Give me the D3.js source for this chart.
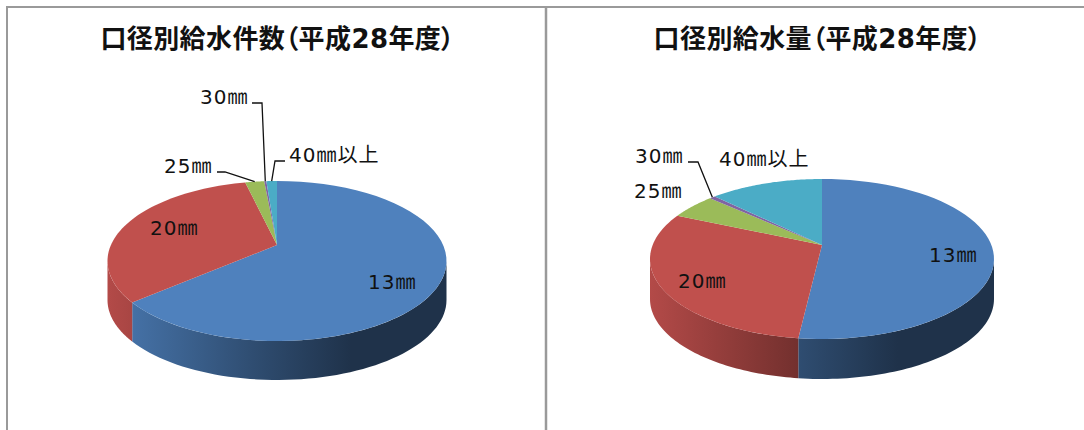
<!DOCTYPE html>
<html lang="ja">
<head>
<meta charset="utf-8">
<script src="https://cdnjs.cloudflare.com/ajax/libs/d3/7.8.5/d3.min.js"></script>
<style>
  html, body { margin: 0; padding: 0; background: #fff; }
  svg { display: block; }
  text { font-family: "DejaVu Sans", "Noto Sans CJK JP", sans-serif; fill: #111; }
  .title { font-size: 26px; font-weight: 700; text-anchor: middle; letter-spacing: 0.4px; }
  .label { font-size: 20px; letter-spacing: 1px; }
  .paren { font-family: "Noto Sans CJK JP"; font-feature-settings: "palt"; }
</style>
</head>
<body>
<svg id="chart" width="1084" height="430"></svg>
<script>
// Share of service connections and of supplied water by meter diameter, FY Heisei 28 (%).
const categories = ["13㎜", "20㎜", "25㎜", "30㎜", "40㎜以上"];
const connectionShares = [66.3, 30.7, 1.8, 0.2, 1.0];
const volumeShares = [52.2, 31.9, 4.6, 0.6, 10.7];
const sliceColors = ["#4f81bd", "#c0504d", "#9bbb59", "#8064a2", "#4bacc6"];

const connectionTitle = ["口径別給水件数", "平成28年度"];
const volumeTitle = ["口径別給水量", "平成28年度"];

// Panel geometry and label placement. apexLift is the perspective shift of the pie's
// centre above the middle of the ellipse.
const panels = [
  {
    id: "connections", values: connectionShares, title: connectionTitle, titleX: 277.5,
    cx: 277, cy: 261, rx: 169.5, ry: 80, depth: 39, apexLift: 16,
    labels: [
      { x: 368, y: 289 }, { x: 150, y: 235 },
      { x: 164, y: 173, elbow: [[217, 172], [225, 172]] },
      { x: 200, y: 104, elbow: [[252, 103], [262, 103]] },
      { x: 289, y: 162, elbow: [[285, 161], [275, 161]] }
    ]
  },
  {
    id: "volume", values: volumeShares, title: volumeTitle, titleX: 817.5,
    cx: 822, cy: 259, rx: 172, ry: 80, depth: 40, apexLift: 14,
    labels: [
      { x: 929, y: 262 }, { x: 678, y: 288 },
      { x: 634, y: 198 },
      { x: 635, y: 163, elbow: [[688, 162], [698, 162]] },
      { x: 719, y: 166 }
    ]
  }
];

const svg = d3.select("#chart");
const defs = svg.append("defs");

// Frame lines around the two panels.
const frame = svg.append("g").attr("stroke", "#9a9a9a").attr("stroke-width", 2).attr("fill", "none");
frame.append("path").attr("d", "M1084,7H7V430");
frame.append("path").attr("d", "M546,7V430").attr("stroke-width", 2.5);

const pieLayout = d3.pie().sort(null).value(d => d);
const sampleAngles = (a0, a1) => d3.range(0, 61).map(t => a0 + (a1 - a0) * t / 60);

panels.forEach(panel => {
  const { cx, cy, rx, ry, depth, apexLift } = panel;
  const g = svg.append("g").attr("id", panel.id);
  const slices = pieLayout(panel.values);

  // Rim point of the tilted ellipse at a clockwise angle measured from the top.
  const rim = a => [cx + rx * Math.sin(a), cy - ry * Math.cos(a)];

  // Side wall shading runs left to right across the disc.
  slices.forEach((s, i) => {
    const base = d3.rgb(sliceColors[i]);
    const shade = k => d3.rgb(base.r * k, base.g * k, base.b * k).formatHex();
    const grad = defs.append("linearGradient")
      .attr("id", `${panel.id}-side-${i}`)
      .attr("gradientUnits", "userSpaceOnUse")
      .attr("x1", cx - rx).attr("x2", cx + rx).attr("y1", 0).attr("y2", 0);
    [[0, 0.93], [0.43, 0.6], [0.72, 0.39], [1, 0.39]].forEach(([o, k]) =>
      grad.append("stop").attr("offset", o).attr("stop-color", shade(k)));
  });

  // Visible part of the wall: the front half of the disc only.
  const wall = g.append("g");
  slices.forEach((s, i) => {
    const a0 = Math.max(s.startAngle, Math.PI / 2);
    const a1 = Math.min(s.endAngle, Math.PI * 1.5);
    if (a1 <= a0) return;
    const upper = sampleAngles(a0, a1).map(rim);
    const lower = upper.map(([x, y]) => [x, y + depth]).reverse();
    wall.append("path")
      .attr("d", d3.line()(upper.concat(lower)) + "Z")
      .attr("fill", `url(#${panel.id}-side-${i})`);
  });

  // Top face: each wedge fans out from the lifted apex to its stretch of rim.
  const apex = [cx, cy - apexLift];
  g.append("g")
    .selectAll("path").data(slices).join("path")
    .attr("d", d => d3.line()([apex, ...sampleAngles(d.startAngle, d.endAngle).map(rim)]) + "Z")
    .attr("fill", (d, i) => sliceColors[i]);

  // Leader lines end on the rim at the middle of their slice.
  panel.labels.forEach((l, i) => {
    if (!l.elbow) return;
    const mid = (slices[i].startAngle + slices[i].endAngle) / 2;
    g.append("path")
      .attr("d", d3.line()([...l.elbow, rim(mid)]))
      .attr("fill", "none").attr("stroke", "#111").attr("stroke-width", 1.3);
  });

  g.selectAll("text.label").data(panel.labels).join("text")
    .attr("class", "label")
    .attr("x", d => d.x).attr("y", d => d.y)
    .text((d, i) => categories[i]);

  const title = g.append("text").attr("class", "title").attr("x", panel.titleX).attr("y", 48);
  title.append("tspan").text(panel.title[0]);
  title.append("tspan").attr("class", "paren").text("（");
  title.append("tspan").text(panel.title[1]);
  title.append("tspan").attr("class", "paren").text("）");
});
</script>
</body>
</html>
